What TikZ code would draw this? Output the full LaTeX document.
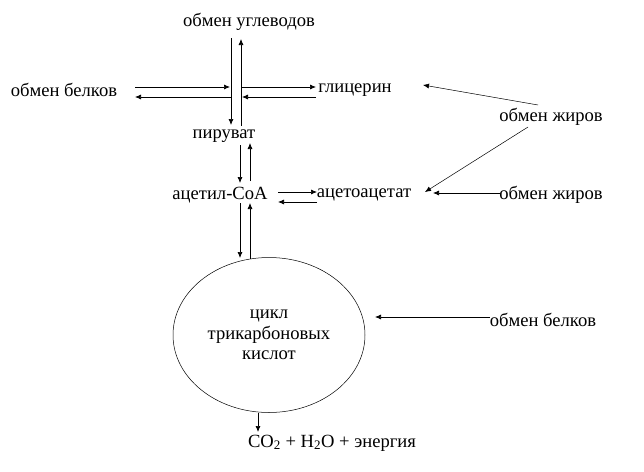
\documentclass[tikz,border=0pt]{standalone}
\usepackage{fontspec}
\setmainfont{Liberation Serif}
\usetikzlibrary{arrows.meta,shapes.geometric}
\begin{document}
\begin{tikzpicture}[x=1pt,y=-1pt,
  lbl/.style={inner sep=0pt,font=\fontsize{18.6}{21}\selectfont},
  arr/.style={-{Latex[length=6pt,width=5pt]},line width=0.7pt},
  thin arr/.style={-{Latex[length=6pt,width=5pt]},line width=0.5pt}]
\useasboundingbox (0,0) rectangle (644,471);
% nodes
\node[lbl] (carb) at (249,22) {обмен углеводов};
\node[lbl] (protL) at (64,90) {обмен белков};
\node[lbl] (glyc) at (355,90) {глицерин};
\node[lbl] (pyr) at (224,136) {пируват};
\node[lbl] (acoa) at (220,195) {ацетил-CoA};
\node[lbl] (acac) at (364,195) {ацетоацетат};
\node[lbl] (fat1) at (551,117) {обмен жиров};
\node[lbl] (fat2) at (551,195) {обмен жиров};
\node[ellipse,draw,line width=0.5pt,minimum width=192pt,minimum height=155pt,inner sep=0pt,
  align=center,font=\fontsize{18.6}{20.5}\selectfont] (tca) at (269,335) {цикл\\трикарбоновых\\кислот};
\node[lbl] (protR) at (543,320) {обмен белков};
\node[lbl] (prod) at (332,443) {CO\textsubscript{2} + H\textsubscript{2}O + энергия};
% coordinates
\coordinate (c1) at (231,38);
\coordinate (c2) at (231,125);
\coordinate (c3) at (241,126);
\coordinate (c4) at (241,39);
\coordinate (h1) at (135,87);
\coordinate (h2) at (230,87);
\coordinate (h3) at (242,87);
\coordinate (h4) at (316,87);
\coordinate (h5) at (316,97);
\coordinate (h6) at (242,97);
\coordinate (h7) at (231,97);
\coordinate (h8) at (135,97);
% cross
\draw[arr] (c1) -- (c2);
\draw[arr] (c3) -- (c4);
\draw[arr] (h1) -- (h2);
\draw[arr] (h3) -- (h4);
\draw[arr] (h5) -- (h6);
\draw[arr] (h7) -- (h8);
% pyruvate <-> acetyl-CoA
\draw[arr] (240,145) -- (240,183);
\draw[arr] (250,181) -- (250,143);
% acetyl-CoA <-> acetoacetate
\draw[arr] (278,192) -- (317,192);
\draw[arr] (317,202) -- (278,202);
% acetyl-CoA <-> TCA
\draw[arr] (240,203) -- (240,258);
\draw[arr] (250,259) -- (250,203);
% fats
\draw[thin arr] (538,105) -- (423,85);
\draw[thin arr] (528,127) -- (425,192);
\draw[arr] (500,193) -- (433,193);
% proteins right
\draw[arr] (490,317) -- (375,317);
% products
\draw[arr] (258,413) -- (258,432);
\end{tikzpicture}
\end{document}
